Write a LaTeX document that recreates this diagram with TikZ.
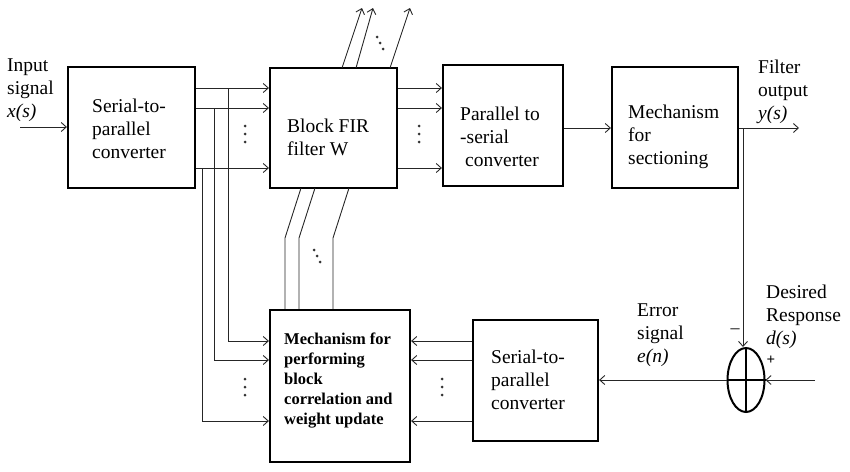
\documentclass[tikz,border=0pt]{standalone}
\usepackage{fontspec}
\setmainfont{Liberation Serif}
\usetikzlibrary{arrows.meta,shapes.geometric}
\begin{document}
\begin{tikzpicture}[x=1pt,y=-1pt,
  blk/.style={draw,line width=2.2pt,inner sep=0pt},
  ln/.style={line width=0.9pt,draw=black!85},
  arr/.style={ln,-{Straight Barb[length=5pt,width=9pt]}},
  txt/.style={align=left,anchor=west,inner sep=0pt,font=\fontsize{19.5}{23}\selectfont},
  btxt/.style={align=left,anchor=west,inner sep=0pt,font=\bfseries\fontsize{16.5}{20}\selectfont},
  dotc/.style={fill=black!80,circle,inner sep=0pt,minimum size=3pt}]
\useasboundingbox (0,0) rectangle (850,471);
% boxes
\node[blk,minimum width=127pt,minimum height=121pt] (b1) at (131.5,127.5) {};
\node[blk,minimum width=127pt,minimum height=120pt] (b2) at (333.5,128) {};
\node[blk,minimum width=120pt,minimum height=121pt] (b5) at (503,125.5) {};
\node[blk,minimum width=126pt,minimum height=121pt] (b6) at (675,127.5) {};
\node[blk,minimum width=140pt,minimum height=152pt] (b3) at (340,386) {};
\node[blk,minimum width=125pt,minimum height=121pt] (b4) at (535.5,380.5) {};
\node[draw,ellipse,line width=2pt,minimum width=37pt,minimum height=64pt,inner sep=0pt] (sum) at (746,380) {};
% texts
\node[txt] (t1) at (92,129) {Serial-to-\\parallel\\converter};
\node[txt] (t2) at (287,137) {Block FIR\\filter W};
\node[txt] (t5) at (460,137) {Parallel to\\-serial\\\hspace{5pt}converter};
\node[txt] (t6) at (628,137) {Mechanism\\for\\sectioning};
\node[btxt] (t3) at (284,381) {Mechanism for\\performing\\block\\correlation and\\weight update};
\node[txt] (t4) at (491,380) {Serial-to-\\parallel\\converter};
\node[txt] (lin) at (7,90) {Input\\signal\\\textit{x(s)}};
\node[txt] (lout) at (758,92) {Filter\\output\\\textit{y(s)}};
\node[txt] (lerr) at (637,335) {Error\\signal\\\textit{e(n)}};
\node[txt] (ldes) at (766,317) {Desired\\Response\\\textit{d(s)}};
\node[font=\fontsize{18}{18}\selectfont,inner sep=0pt] (minus) at (735,331) {--};
\node[font=\bfseries\fontsize{15}{15}\selectfont,inner sep=0pt] (plus) at (771,360) {+};
% coordinates
\coordinate (xin) at (20,127);
\coordinate (r1) at (0,88);
\coordinate (r2) at (0,108);
\coordinate (r3) at (0,168);
\coordinate (s1) at (0,341);
\coordinate (s2) at (0,360);
\coordinate (s3) at (0,421);
\coordinate (m) at (0,128);
\coordinate (tp1) at (228,88);
\coordinate (tp2) at (214,108);
\coordinate (tp3) at (202,168);
\coordinate (yout) at (799,128);
\coordinate (ytap) at (743,128);
\coordinate (din) at (815,380);
% input and rows
\draw[arr] (xin) -- (b1.west |- xin);
\foreach \r in {r1,r2,r3}{
  \draw[arr] (b1.east |- \r) -- (b2.west |- \r);
  \draw[arr] (b2.east |- \r) -- (b5.west |- \r);
}
\draw[arr] (tp1) |- (b3.west |- s1);
\draw[arr] (tp2) |- (b3.west |- s2);
\draw[arr] (tp3) |- (b3.west |- s3);
\foreach \r in {s1,s2,s3}{
  \draw[arr] (b4.west |- \r) -- (b3.east |- \r);
}
\draw[arr] (b5.east |- m) -- (b6.west |- m);
\draw[arr] (b6.east |- m) -- (yout);
\draw[arr] (ytap) -- (ytap |- sum.north);
\draw[arr] (din) -- (sum.east);
\draw[arr] (sum.west) -- (b4.east |- sum.west);
\draw[line width=1.6pt] (sum.west) -- (sum.east) (sum.north) -- (sum.south);
% weight lines between b3 and b2
\coordinate (u1) at (285,238);
\coordinate (u2) at (299,238);
\coordinate (u3) at (333,238);
\draw[ln] (b3.north -| u1) -- (u1) -- (301,188);
\draw[ln] (b3.north -| u2) -- (u2) -- (315,188);
\draw[ln] (b3.north -| u3) -- (u3) -- (349,188);
% outputs above b2
\coordinate (o1) at (362,8);
\coordinate (o2) at (373,8);
\coordinate (o3) at (410,8);
\draw[arr] (342,68) -- (o1);
\draw[arr] (356,68) -- (o2);
\draw[arr] (390,68) -- (o3);
% dots
\foreach \p in {(245,126),(245,134),(245,142),(419,126),(419,134),(419,142),
                (245,379),(245,387),(245,395),(442,379),(442,387),(442,395),
                (377,37),(380,43),(383,49),(314,250),(317,256),(320,262)}
  \node[dotc] at \p {};
\end{tikzpicture}
\end{document}
